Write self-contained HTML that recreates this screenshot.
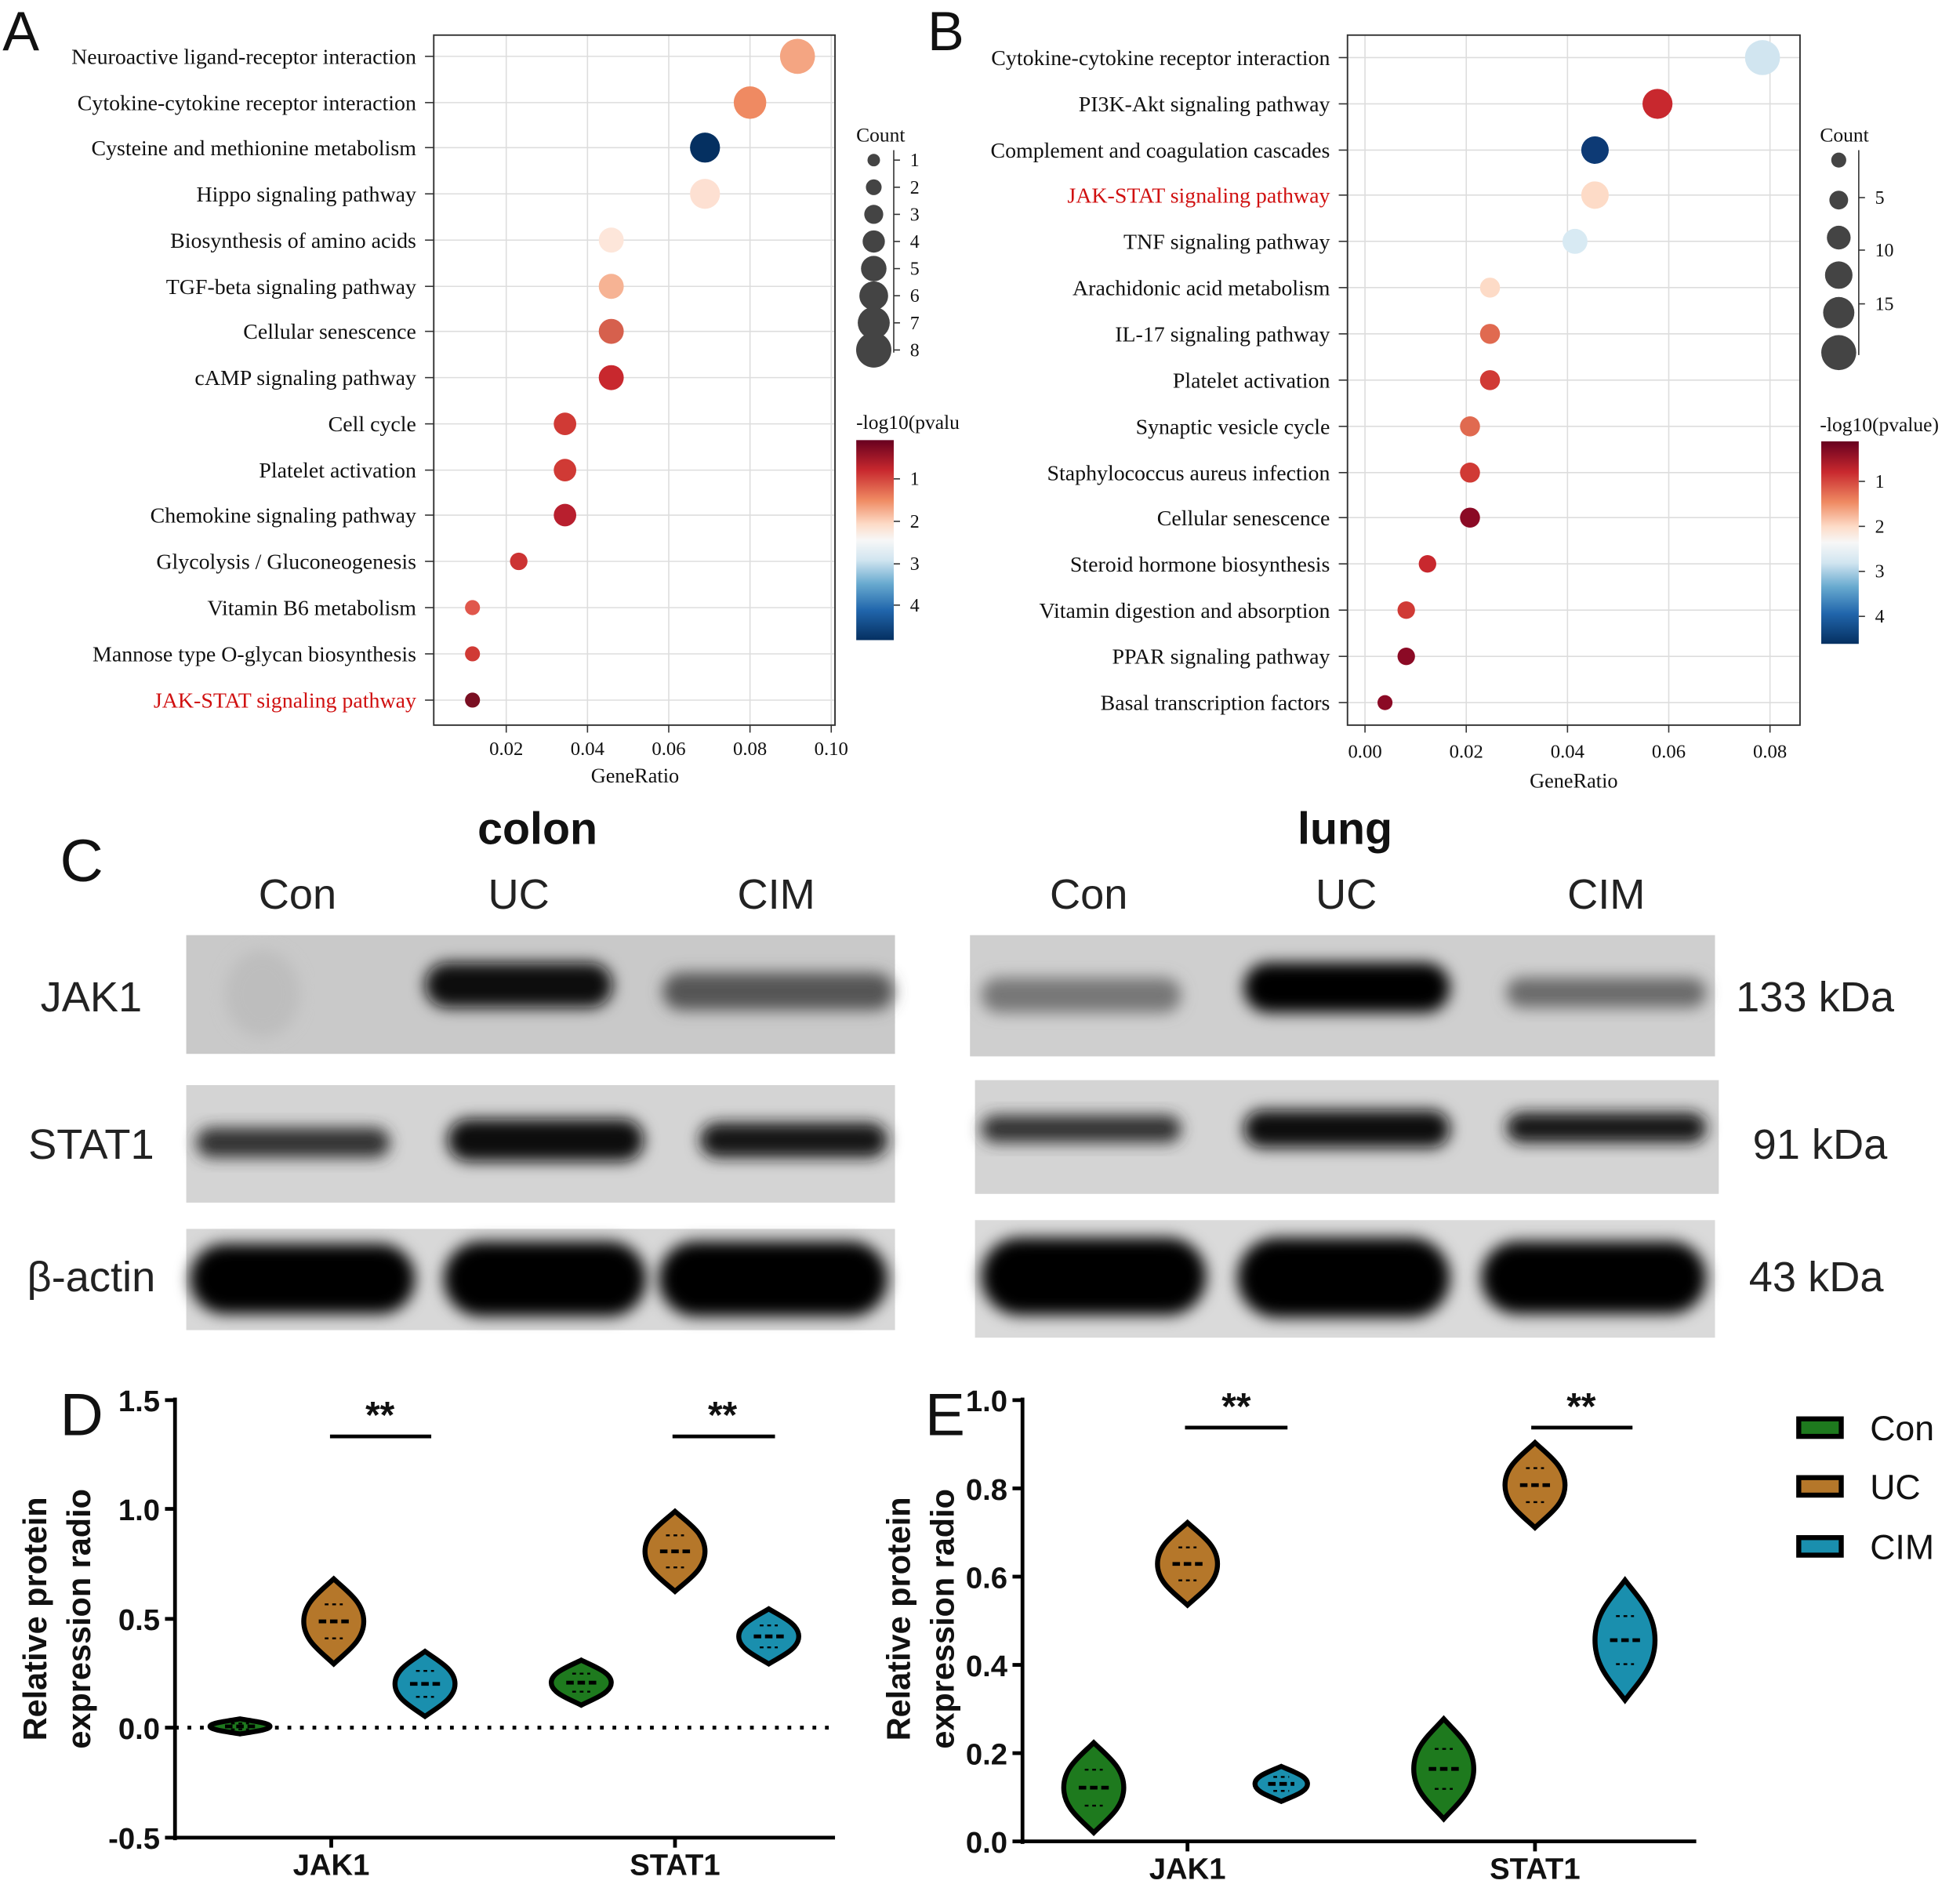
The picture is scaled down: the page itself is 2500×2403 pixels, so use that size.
<!DOCTYPE html>
<html><head><meta charset="utf-8">
<style>
html,body{margin:0;padding:0;background:#fff;}
svg{display:block;}
.s{font-family:"Liberation Serif",serif;}
.a{font-family:"Liberation Sans",sans-serif;}
</style></head>
<body>
<svg id="g" width="2500" height="2403" viewBox="0 0 1568 1507" xmlns="http://www.w3.org/2000/svg">
<defs>
<filter id="bl" x="-20%" y="-50%" width="140%" height="200%"><feGaussianBlur stdDeviation="6"/></filter>
<linearGradient id="cb" x1="0" y1="0" x2="0" y2="1">
<stop offset="0" stop-color="#67001f"/><stop offset="0.15" stop-color="#c8282e"/><stop offset="0.3" stop-color="#ef8a62"/><stop offset="0.42" stop-color="#fddbc7"/><stop offset="0.5" stop-color="#f7f7f7"/><stop offset="0.6" stop-color="#d1e5f0"/><stop offset="0.72" stop-color="#67a9cf"/><stop offset="0.85" stop-color="#2166ac"/><stop offset="1" stop-color="#053061"/>
</linearGradient>
</defs>
<g id="root"></g>
</svg>
<script>
const R=document.getElementById('root');let h='';
function t(x,y,s,sz,opt){opt=opt||{};h+=`<text x="${x}" y="${y}" font-size="${sz}" class="${opt.c||'s'}" text-anchor="${opt.a||'start'}" fill="${opt.f||'#111'}" ${opt.w?'font-weight="bold"':''} ${opt.tr?'transform="'+opt.tr+'"':''}>${s}</text>`;}
function l(x1,y1,x2,y2,c,w,d){h+=`<line x1="${x1}" y1="${y1}" x2="${x2}" y2="${y2}" stroke="${c||'#000'}" stroke-width="${w||1}" ${d?'stroke-dasharray="'+d+'"':''}/>`;}
function c(x,y,r,f){h+=`<circle cx="${x}" cy="${y}" r="${r}" fill="${f}"/>`;}
// Panel A
t(2,40,'A',44,{c:'a'});
const rowsA=[45,82,118,155,192,229,265,302,339,376,412,449,486,523,560];
const labA=['Neuroactive ligand-receptor interaction','Cytokine-cytokine receptor interaction','Cysteine and methionine metabolism','Hippo signaling pathway','Biosynthesis of amino acids','TGF-beta signaling pathway','Cellular senescence','cAMP signaling pathway','Cell cycle','Platelet activation','Chemokine signaling pathway','Glycolysis / Gluconeogenesis','Vitamin B6 metabolism','Mannose type O-glycan biosynthesis','JAK-STAT signaling pathway'];
[405,470,535,600,665].forEach(x=>l(x,28,x,580,'#ddd',1));
rowsA.forEach((y,i)=>{l(347,y,668,y,'#ddd',1);l(340,y,347,y,'#333',1);t(333,y+6,labA[i],17.5,{a:'end',f:i==14?'#d01010':'#111'});});
h+=`<rect x="347" y="28" width="321" height="552" fill="none" stroke="#333" stroke-width="1.2"/>`;
[[405,'0.02'],[470,'0.04'],[535,'0.06'],[600,'0.08'],[665,'0.10']].forEach(([x,s])=>{l(x,580,x,586,'#333');t(x,604,s,15.5,{a:'middle'});});
t(508,626,'GeneRatio',16.5,{a:'middle'});
[[638,45,14,'#f4a582'],[600,82,13,'#ef8a62'],[564,118,12,'#053061'],[564,155,12,'#fde0d2'],[489,192,10,'#fde6da'],[489,229,10,'#f6b394'],[489,265,10,'#d6604d'],[489,302,10,'#c8282e'],[452,339,9,'#d03a35'],[452,376,9,'#d03a35'],[452,412,9,'#b81f2e'],[415,449,7,'#cc3333'],[378,486,6,'#e0574c'],[378,523,6,'#d03a35'],[378,560,6,'#7a0f22']].forEach(a=>c(...a));
t(685,113,'Count',16);
l(715,120,715,282,'#333');
for(let i=0;i<8;i++){let y=128+i*21.7;c(699,y,5+i*1.3,'#444');l(715,y,720,y,'#333');t(728,y+5,i+1,15);}
t(685,343,'-log10(pvalu',16);
h+=`<rect x="685" y="352" width="30" height="160" fill="url(#cb)"/>`;
[[383,1],[417,2],[451,3],[484,4]].forEach(([y,s])=>{l(715,y,720,y,'#333');t(728,y+5,s,15);});
// Panel B
t(742,40,'B',44,{c:'a'});
const rowsB=[46,83,120,156,193,230,267,304,341,378,414,451,488,525,562];
const labB=['Cytokine-cytokine receptor interaction','PI3K-Akt signaling pathway','Complement and coagulation cascades','JAK-STAT signaling pathway','TNF signaling pathway','Arachidonic acid metabolism','IL-17 signaling pathway','Platelet activation','Synaptic vesicle cycle','Staphylococcus aureus infection','Cellular senescence','Steroid hormone biosynthesis','Vitamin digestion and absorption','PPAR signaling pathway','Basal transcription factors'];
[1092,1173,1254,1335,1416].forEach(x=>l(x,28,x,580,'#ddd',1));
rowsB.forEach((y,i)=>{l(1078,y,1440,y,'#ddd',1);l(1071,y,1078,y,'#333',1);t(1064,y+6,labB[i],17.5,{a:'end',f:i==3?'#d01010':'#111'});});
h+=`<rect x="1078" y="28" width="362" height="552" fill="none" stroke="#333" stroke-width="1.2"/>`;
[[1092,'0.00'],[1173,'0.02'],[1254,'0.04'],[1335,'0.06'],[1416,'0.08']].forEach(([x,s])=>{l(x,580,x,586,'#333');t(x,606,s,15.5,{a:'middle'});});
t(1259,630,'GeneRatio',16.5,{a:'middle'});
[[1410,46,14,'#d1e5f0'],[1326,83,12,'#c8282e'],[1276,120,11,'#0d3a75'],[1276,156,11,'#fddbc7'],[1260,193,10,'#d8eaf3'],[1192,230,8,'#fddbc7'],[1192,267,8,'#e06a50'],[1192,304,8,'#d03a35'],[1176,341,8,'#e06a50'],[1176,378,8,'#d03a35'],[1176,414,8,'#8b0a25'],[1142,451,7,'#c8282e'],[1125,488,7,'#d03a35'],[1125,525,7,'#8b0a25'],[1108,562,6,'#8b0a25']].forEach(a=>c(...a));
t(1456,113,'Count',16);
l(1487,120,1487,284,'#333');
[[128,6],[160,7.5],[190,9.5],[220,11],[250,12.5],[282,14]].forEach(([y,r])=>c(1471,y,r,'#444'));
[[162,5],[204,10],[247,15]].forEach(([y,s])=>{l(1487,y-4,1492,y-4,'#333');t(1500,y+1,s,15);});
t(1456,345,'-log10(pvalue)',16);
h+=`<rect x="1457" y="353" width="30" height="162" fill="url(#cb)"/>`;
[[385,1],[421,2],[457,3],[493,4]].forEach(([y,s])=>{l(1487,y,1492,y,'#333');t(1500,y+5,s,15);});
// Panel C
t(48,705,'C',48,{c:'a'});
t(430,675,'colon',36,{c:'a',a:'middle',w:1});
t(1076,675,'lung',36,{c:'a',a:'middle',w:1});
[[238,'Con'],[415,'UC'],[621,'CIM'],[871,'Con'],[1077,'UC'],[1285,'CIM']].forEach(([x,s])=>t(x,727,s,34,{c:'a',a:'middle',f:'#222'}));
function blot(x,y,w,hh,bg,bands){h+=`<rect x="${x}" y="${y}" width="${w}" height="${hh}" fill="${bg}"/>`;bands.forEach(b=>{h+=`<rect x="${b[0]}" y="${b[1]}" width="${b[2]}" height="${b[3]}" rx="${b[3]/2}" fill="${b[4]}" filter="url(#bl)"/>`;});}
blot(149,748,567,95,'#c9c9c9',[[340,770,150,36,'#0a0a0a'],[530,778,185,30,'#555'],[180,760,60,70,'#bdbdbd']]);
blot(149,868,567,94,'#d4d4d4',[[157,902,155,24,'#333'],[358,895,157,34,'#0a0a0a'],[560,898,150,28,'#151515']]);
blot(149,983,567,81,'#d8d8d8',[[152,995,180,56,'#000'],[355,993,162,60,'#000'],[527,993,183,60,'#000']]);
blot(776,748,596,97,'#cfcfcf',[[785,782,160,28,'#777'],[995,770,165,40,'#050505'],[1205,782,160,24,'#6a6a6a']]);
blot(780,864,595,91,'#d4d4d4',[[785,892,160,22,'#333'],[995,888,165,30,'#0a0a0a'],[1205,890,160,24,'#151515']]);
blot(780,976,592,94,'#dadada',[[785,990,180,62,'#000'],[990,990,170,64,'#000'],[1185,993,180,58,'#000']]);
t(73,809,'JAK1',34,{c:'a',a:'middle',f:'#222'});
t(73,927,'STAT1',34,{c:'a',a:'middle',f:'#222'});
t(73,1033,'β-actin',34,{c:'a',a:'middle',f:'#222'});
t(1452,809,'133 kDa',34,{c:'a',a:'middle',f:'#222'});
t(1456,927,'91 kDa',34,{c:'a',a:'middle',f:'#222'});
t(1453,1033,'43 kDa',34,{c:'a',a:'middle',f:'#222'});
// violins
function vio(cx,cy,hh,w,f){let p=`M${cx},${cy-hh} C${cx+w*0.45},${cy-hh*0.7} ${cx+w},${cy-hh*0.45} ${cx+w},${cy} C${cx+w},${cy+hh*0.45} ${cx+w*0.45},${cy+hh*0.7} ${cx},${cy+hh} C${cx-w*0.45},${cy+hh*0.7} ${cx-w},${cy+hh*0.45} ${cx-w},${cy} C${cx-w},${cy-hh*0.45} ${cx-w*0.45},${cy-hh*0.7} ${cx},${cy-hh}Z`;
h+=`<path d="${p}" fill="${f}" stroke="#000" stroke-width="4"/>`;
l(cx-w*0.5,cy,cx+w*0.5,cy,'#000',3,'6 3');l(cx-w*0.3,cy-hh*0.4,cx+w*0.3,cy-hh*0.4,'#000',1.5,'3 3');l(cx-w*0.3,cy+hh*0.4,cx+w*0.3,cy+hh*0.4,'#000',1.5,'3 3');}
const G='#1e7a1e',B='#b5772a',T='#1a8fae';
// D
t(48,1148,'D',48,{c:'a'});
l(140,1118,140,1472,'#000',3);l(139,1470,668,1470,'#000',3);
[[1120,'1.5'],[1207,'1.0'],[1295,'0.5'],[1382,'0.0'],[1470,'-0.5']].forEach(([y,s])=>{l(132,y,140,y,'#000',3);t(128,y+9,s,24,{c:'a',a:'end',w:1});});
l(140,1382,668,1382,'#000',3,'3 7');
[265,540].forEach(x=>l(x,1470,x,1478,'#000',3));
t(265,1500,'JAK1',24,{c:'a',a:'middle',w:1});t(540,1500,'STAT1',24,{c:'a',a:'middle',w:1});
vio(192,1381,6,24,G);vio(267,1297,34,24,B);vio(340,1347,26,24,T);
vio(465,1346,18,24,G);vio(540,1241,32,24,B);vio(615,1309,22,24,T);
l(264,1149,345,1149,'#000',3);l(538,1149,620,1149,'#000',3);
t(304,1142,'**',30,{c:'a',a:'middle',w:1});t(578,1142,'**',30,{c:'a',a:'middle',w:1});
t(0,0,'Relative protein',26,{c:'a',a:'middle',w:1,tr:'translate(37,1295) rotate(-90)'});
t(0,0,'expression radio',26,{c:'a',a:'middle',w:1,tr:'translate(72,1295) rotate(-90)'});
// E
t(740,1148,'E',48,{c:'a'});
l(818,1118,818,1475,'#000',3);l(817,1473,1357,1473,'#000',3);
[[1120,'1.0'],[1190.6,'0.8'],[1261.2,'0.6'],[1331.8,'0.4'],[1402.4,'0.2'],[1473,'0.0']].forEach(([y,s])=>{l(810,y,818,y,'#000',3);t(806,y+9,s,24,{c:'a',a:'end',w:1});});
[950,1228].forEach(x=>l(x,1473,x,1481,'#000',3));
t(950,1503,'JAK1',24,{c:'a',a:'middle',w:1});t(1228,1503,'STAT1',24,{c:'a',a:'middle',w:1});
vio(875,1430,36,24,G);vio(950,1251,33,24,B);vio(1025,1427,14,21,T);
vio(1155,1415,40,24,G);vio(1228,1188,34,24,B);vio(1300,1312,48,24,T);
l(948,1142,1030,1142,'#000',3);l(1225,1142,1306,1142,'#000',3);
t(989,1135,'**',30,{c:'a',a:'middle',w:1});t(1265,1135,'**',30,{c:'a',a:'middle',w:1});
t(0,0,'Relative protein',26,{c:'a',a:'middle',w:1,tr:'translate(728,1295) rotate(-90)'});
t(0,0,'expression radio',26,{c:'a',a:'middle',w:1,tr:'translate(763,1295) rotate(-90)'});
[[1142,G,'Con'],[1189,B,'UC'],[1237,T,'CIM']].forEach(([y,f,s])=>{h+=`<rect x="1439" y="${y-7}" width="34" height="14" fill="${f}" stroke="#000" stroke-width="4"/>`;t(1496,y+10,s,28,{c:'a'});});
R.innerHTML=h;
</script>
</body></html>
